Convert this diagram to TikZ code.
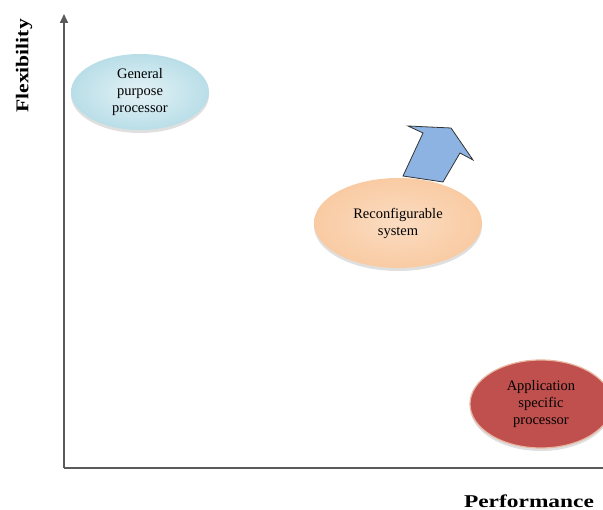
\documentclass[tikz,border=0pt]{standalone}
\usepackage{fontspec}
\setmainfont{Liberation Serif}
\usetikzlibrary{shapes.geometric,shadows,arrows.meta}
\definecolor{axisgray}{HTML}{5A5A5A}
\definecolor{gpfill}{HTML}{B9DEE8}
\definecolor{gpedge}{HTML}{E4F2F6}
\definecolor{rcfill}{HTML}{F9CBA3}
\definecolor{rcedge}{HTML}{FBDCC2}
\definecolor{apfill}{HTML}{C0504D}
\definecolor{apedge}{HTML}{E8B4A0}
\definecolor{arrfill}{HTML}{8DB3E2}
\tikzset{
  blob/.style={ellipse, draw=none, align=center, inner sep=0pt,
    font=\fontsize{14.5}{17}\selectfont,
    drop shadow={shadow xshift=0pt, shadow yshift=-3pt, opacity=0.25}},
  axisline/.style={draw=axisgray, line width=1.6pt},
  axislabel/.style={inner sep=0pt, font=\fontsize{18}{20}\selectfont\bfseries}
}
\begin{document}
\begin{tikzpicture}[x=1pt,y=-1pt]
\useasboundingbox (0,0) rectangle (603,510);
% axes
\coordinate (origin) at (64,468);
\coordinate (ytop) at (64,14);
\coordinate (xend) at (603,468);
\draw[axisline, -{Triangle[length=9pt,width=8pt]}] (origin) -- (ytop);
\draw[axisline] (origin) -- (xend);
\node[axislabel, rotate=90, xscale=1.2] (flex) at (24,66) {Flexibility};
\node[axislabel, xscale=1.3] (perf) at (529,501) {Performance};
% block arrow
\draw[fill=arrfill, draw=black!80, line width=0.8pt, line join=miter]
  (403,176) -- (423,133) -- (408,126) -- (451,128) -- (473,160) -- (460,153) -- (443,182) -- cycle;
% ellipses
\node[blob, minimum width=138pt, minimum height=76pt,
  inner color=gpedge, outer color=gpfill] (gp) at (140,92)
  {General\\purpose\\processor};
\node[blob, minimum width=168pt, minimum height=90pt,
  inner color=rcedge, outer color=rcfill] (rc) at (398,223)
  {Reconfigurable\\system};
\node[blob, minimum width=142pt, minimum height=88pt,
  fill=apfill, draw=apedge, line width=1.2pt] (ap) at (541,404)
  {Application\\specific\\processor};
\end{tikzpicture}
\end{document}
